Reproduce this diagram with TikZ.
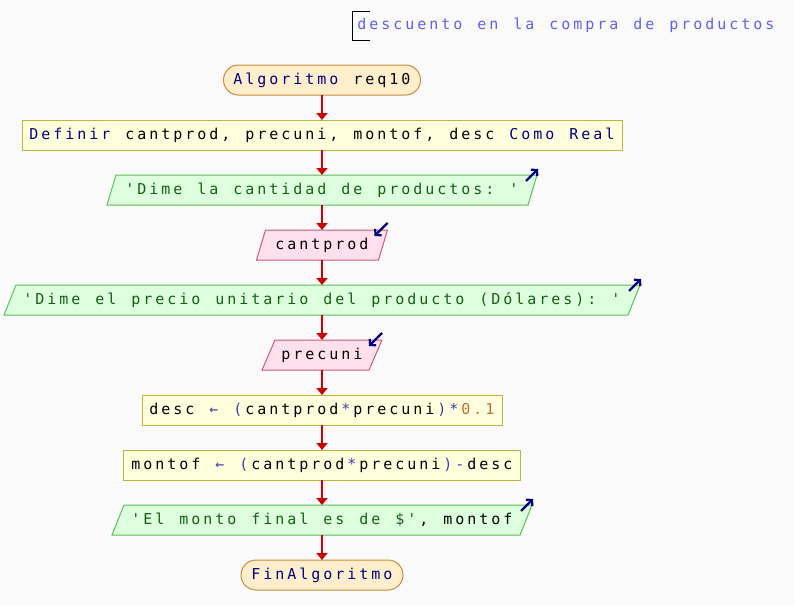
\documentclass[tikz,border=0pt]{standalone}
\usepackage{fontspec}
\usetikzlibrary{arrows.meta,backgrounds}
\newfontfamily\pmono{DejaVu Sans Mono}
\definecolor{bgc}{RGB}{250,250,250}
\definecolor{termf}{RGB}{255,238,204}
\definecolor{termb}{RGB}{200,140,60}
\definecolor{procf}{RGB}{255,255,221}
\definecolor{procb}{RGB}{190,180,60}
\definecolor{outf}{RGB}{222,255,222}
\definecolor{outb}{RGB}{90,190,90}
\definecolor{inf}{RGB}{255,224,236}
\definecolor{inb}{RGB}{200,90,130}
\definecolor{flowc}{RGB}{204,0,0}
\definecolor{iconc}{RGB}{0,0,128}
\definecolor{kwcol}{RGB}{0,0,128}
\definecolor{strcol}{RGB}{20,95,20}
\definecolor{opcol}{RGB}{60,60,170}
\definecolor{numcol}{RGB}{200,110,50}
\definecolor{cmtcol}{RGB}{96,96,240}
\ExplSyntaxOn
\NewDocumentCommand\mchars{m}{\str_map_inline:nn {#1}{\makebox[12pt][c]{##1}}}
\ExplSyntaxOff
\newcommand\Kw[1]{\textcolor{kwcol}{\mchars{#1}}}
\newcommand\Sv[1]{\textcolor{strcol}{\mchars{#1}}}
\newcommand\Op[1]{\textcolor{opcol}{\mchars{#1}}}
\newcommand\Nm[1]{\textcolor{numcol}{\mchars{#1}}}
\newcommand\para[3]{\draw[#3] ([xshift=#2pt]#1.north west) -- (#1.north east) -- ([xshift=-#2pt]#1.south east) -- (#1.south west) -- cycle;}
\newcommand\outicon[1]{\draw[icon] ([shift={(-11,6)}]#1.north east) -- ([shift={(1,-6)}]#1.north east);}
\newcommand\inicon[1]{\draw[icon] ([shift={(0,-7)}]#1.north east) -- ([shift={(-13,6)}]#1.north east);}
\tikzset{
 base/.style={minimum height=30pt, inner sep=0pt, outer sep=0pt, font=\pmono\fontsize{15}{17}\selectfont},
 term/.style={base, draw=termb, fill=termf, rounded corners=15pt, line width=1pt},
 proc/.style={base, draw=procb, fill=procf, line width=1pt},
 io/.style={base},
 outshape/.style={draw=outb, fill=outf, line width=1pt},
 inshape/.style={draw=inb, fill=inf, line width=1pt},
 flow/.style={draw=flowc, line width=2.2pt, -{Triangle[length=7pt,width=11pt]}},
 icon/.style={draw=iconc, line width=2.2pt, -{Straight Barb[length=4pt,width=9pt]}},
 cmtbr/.style={draw=black, line width=1pt},
}
\begin{document}
\begin{tikzpicture}[x=1pt,y=-1pt]
\useasboundingbox (0,0) rectangle (794,605);
\node[term, minimum width=197pt] (start) at (322,80) {\Kw{Algoritmo}\mchars{ req10}};
\node[proc, minimum width=600pt] (def) at (322,135) {\Kw{Definir}\mchars{ cantprod, precuni, montof, desc }\Kw{Como Real}};
\node[io, minimum width=430pt] (out1) at (322,190) {\Sv{'Dime la cantidad de productos: '}};
\node[io, minimum width=131pt] (in1) at (322,245) {\mchars{cantprod}};
\node[io, minimum width=636pt] (out2) at (322,300) {\Sv{'Dime el precio unitario del producto (Dólares): '}};
\node[io, minimum width=120pt] (in2) at (322,355) {\mchars{precuni}};
\node[proc, minimum width=360pt] (desc) at (322,410) {\mchars{desc }\Op{← (}\mchars{cantprod}\Op{*}\mchars{precuni}\Op{)*}\Nm{0.1}};
\node[proc, minimum width=397pt] (mont) at (322,465) {\mchars{montof }\Op{← (}\mchars{cantprod}\Op{*}\mchars{precuni}\Op{)-}\mchars{desc}};
\node[io, minimum width=420pt] (out3) at (322,520) {\Sv{'El monto final es de $'}\mchars{, montof}};
\node[term, minimum width=162pt] (end) at (322,575) {\Kw{FinAlgoritmo}};
\node[base, anchor=west, text=cmtcol, minimum height=0pt] (cmt) at (356,25) {\mchars{descuento en la compra de productos}};
\draw[cmtbr] (370,11) -- (352.5,11) -- (352.5,40) -- (370,40);
\begin{pgfonlayer}{background}
\fill[bgc] (0,0) rectangle (794,605);
\para{out1}{9}{outshape}
\para{in1}{9}{inshape}
\para{out2}{12}{outshape}
\para{in2}{13}{inshape}
\para{out3}{12}{outshape}
\end{pgfonlayer}
\outicon{out1}
\inicon{in1}
\outicon{out2}
\inicon{in2}
\outicon{out3}
\draw[flow] (start.south) -- (def.north);
\draw[flow] (def.south) -- (out1.north);
\draw[flow] (out1.south) -- (in1.north);
\draw[flow] (in1.south) -- (out2.north);
\draw[flow] (out2.south) -- (in2.north);
\draw[flow] (in2.south) -- (desc.north);
\draw[flow] (desc.south) -- (mont.north);
\draw[flow] (mont.south) -- (out3.north);
\draw[flow] (out3.south) -- (end.north);
\end{tikzpicture}
\end{document}
